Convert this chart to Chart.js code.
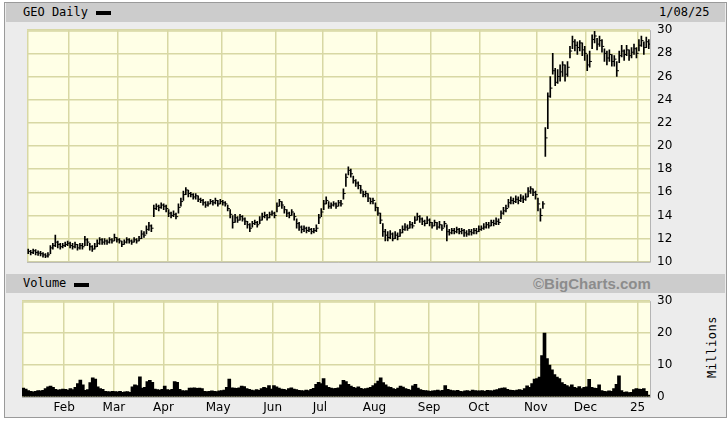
<!DOCTYPE html>
<html>
<head>
<meta charset="utf-8">
<script src="https://cdn.jsdelivr.net/npm/chart.js@4"></script>
<style>
  html, body { margin:0; padding:0; background:#ffffff; }
  body { width:728px; height:422px; position:relative; overflow:hidden; }
  #frame { position:absolute; left:4px; top:2px; width:721px; height:414px; border:1px solid #9a9a9a; background:#ececec; }
  .hdr { position:absolute; left:6px; width:719px; height:19px; background:#cccccc; }
  .hdr span { position:absolute; top:2px; font-family:"DejaVu Sans Mono", monospace; font-size:12px; color:#000; }
  .mark { position:absolute; width:15px; height:4px; background:#000; }
  #bc { position:absolute; font-family:"Liberation Sans", Arial, sans-serif; font-weight:bold; font-size:15px; color:#8c8c8c; top:1px; left:527px; }
  #mil { position:absolute; left:712px; top:347px; transform:translate(-50%,-50%) rotate(-90deg); font-family:"DejaVu Sans Mono", monospace; font-size:12px; color:#000; letter-spacing:0.5px; white-space:nowrap; }
  canvas { position:absolute; }
</style>
</head>
<body>
<div id="frame"></div>
<div class="hdr" style="top:3px;">
  <span style="left:17px;">GEO Daily</span>
  <div class="mark" style="left:90px; top:8px;"></div>
  <span style="left:653px;">1/08/25</span>
</div>
<div class="hdr" style="top:274px;">
  <span style="left:17px;">Volume</span>
  <div class="mark" style="left:68px; top:9px;"></div>
  <div id="bc">©BigCharts.com</div>
</div>
<div id="mil">Millions</div>
<canvas id="price" width="690" height="260" style="left:22px; top:16px;"></canvas>
<canvas id="vol" width="690" height="133" style="left:22px; top:287px;"></canvas>
<script>
// ---- Data (GEO daily, 1/08/24 - 1/08/25), one entry per trading day ----
const monthLabels = ['Feb','Mar','Apr','May','Jun','Jul','Aug','Sep','Oct','Nov','Dec','25'];
const monthStarts = [17, 37, 57, 79, 101, 120, 142, 164, 184, 207, 227, 248];
const priceTicks = [10, 12, 14, 16, 18, 20, 22, 24, 26, 28, 30];
const volumeTicks = [0, 10, 20, 30];

const closes = [
  10.9,10.8,10.95,10.8,10.75,10.7,10.6,10.5,10.6,11.2,11.4,11.7,11.5,11.3,11.4,11.5,11.6,
  11.4,11.3,11.5,11.2,11.4,11.3,11.9,11.7,11.3,11.1,11.3,11.6,11.9,11.7,11.8,11.7,11.9,11.8,12.1,11.9,
  11.8,11.5,11.7,11.9,11.8,11.7,11.9,11.8,12.0,12.4,12.3,12.8,13.1,12.9,14.6,14.8,14.7,14.9,14.8,14.6,
  14.2,14.0,14.1,13.9,14.7,15.2,15.8,16.2,15.9,15.8,15.6,15.7,15.4,15.3,15.1,14.9,15.0,15.2,15.1,15.3,15.0,15.2,
  15.1,15.0,14.6,14.1,13.4,13.8,13.6,13.9,13.7,13.5,13.2,12.9,13.3,13.4,13.2,13.6,13.9,14.0,13.8,14.1,14.2,14.0,
  14.8,15.2,14.9,14.5,14.2,14.0,14.3,13.9,13.3,13.0,12.8,12.9,12.7,12.8,12.6,12.7,12.9,13.8,14.3,
  15.0,15.3,14.8,14.9,15.0,14.8,15.1,15.0,15.9,17.3,17.9,17.6,17.0,16.8,16.6,16.2,15.8,15.9,15.5,15.2,15.3,14.7,
  14.2,13.6,12.6,12.3,12.1,12.4,12.0,12.3,12.2,12.5,12.8,13.0,12.9,13.2,13.1,13.6,13.9,13.7,13.5,13.3,13.6,13.4,
  13.1,13.4,13.0,13.2,12.9,13.3,12.6,12.5,12.7,12.6,12.8,12.6,12.7,12.5,12.4,12.6,12.5,12.7,12.6,12.8,
  12.9,13.0,13.2,13.1,13.4,13.3,13.5,13.4,14.2,14.4,14.6,15.1,15.3,15.2,15.4,15.3,15.5,15.4,15.6,16.1,16.3,16.0,15.8,
  15.0,14.0,15.0,20.7,24.3,25.0,26.5,25.5,26.0,26.4,27.0,26.2,26.8,28.2,29.0,28.7,28.5,28.9,28.3,28.0,
  27.0,27.3,29.2,29.5,28.8,29.1,28.6,28.0,27.6,27.9,27.3,27.5,26.5,27.8,28.2,27.9,28.3,27.8,28.1,28.4,28.0,
  28.7,29.1,28.5,29.0,28.8
];
const highs = [
  11.1,11.0,11.1,11.05,10.95,10.9,10.8,10.7,10.8,11.4,11.6,12.3,11.8,11.6,11.6,11.7,11.8,
  11.7,11.6,11.7,11.5,11.6,11.6,12.2,12.0,11.6,11.4,11.6,11.9,12.1,12.0,12.0,11.9,12.1,12.0,12.4,12.1,
  12.0,11.8,11.9,12.1,12.0,11.9,12.1,12.0,12.2,12.7,12.6,13.1,13.4,13.2,14.9,15.0,14.9,15.1,15.0,14.9,
  14.5,14.3,14.4,14.2,15.0,15.5,16.1,16.4,16.2,16.0,15.9,15.9,15.7,15.5,15.4,15.2,15.2,15.4,15.3,15.5,15.3,15.4,
  15.3,15.2,14.9,14.5,14.0,14.1,13.9,14.1,14.0,13.8,13.5,13.3,13.5,13.6,13.5,13.9,14.2,14.3,14.1,14.3,14.4,14.3,
  15.1,15.4,15.2,14.8,14.5,14.3,14.5,14.2,13.7,13.4,13.1,13.1,13.0,13.0,12.9,12.9,13.2,14.1,14.6,
  15.3,15.6,15.2,15.1,15.2,15.1,15.3,15.3,16.3,17.6,18.2,18.0,17.4,17.1,16.9,16.6,16.1,16.1,15.9,15.5,15.5,15.1,
  14.7,14.2,13.3,12.8,12.6,12.7,12.5,12.6,12.5,12.8,13.1,13.3,13.2,13.5,13.4,13.9,14.2,14.0,13.8,13.6,13.9,13.7,
  13.4,13.6,13.4,13.5,13.2,13.5,13.2,12.8,12.9,12.9,13.0,12.9,12.9,12.8,12.7,12.8,12.8,12.9,12.9,13.1,
  13.1,13.3,13.4,13.4,13.6,13.6,13.8,13.7,14.4,14.7,14.9,15.4,15.6,15.5,15.7,15.6,15.8,15.7,15.9,16.4,16.5,16.3,16.1,
  15.5,14.6,15.2,21.6,24.6,26.0,28.0,26.7,26.6,27.0,27.3,27.0,27.3,28.6,29.5,29.2,29.0,29.1,28.9,28.6,
  27.9,28.2,29.6,29.9,29.3,29.5,29.2,28.4,28.2,28.3,27.9,27.8,27.3,28.2,28.7,28.3,28.7,28.3,28.5,28.8,28.5,
  29.2,29.5,29.0,29.4,29.2
];
const lows = [
  10.7,10.6,10.7,10.6,10.55,10.5,10.4,10.35,10.4,10.7,11.1,11.3,11.2,11.1,11.2,11.3,11.4,
  11.2,11.1,11.2,11.0,11.1,11.1,11.4,11.4,11.0,10.9,11.1,11.3,11.5,11.5,11.5,11.5,11.6,11.6,11.8,11.7,
  11.6,11.3,11.5,11.6,11.6,11.5,11.7,11.6,11.8,12.0,12.1,12.4,12.7,12.6,13.9,14.5,14.4,14.6,14.5,14.3,
  13.9,13.8,13.9,13.7,14.2,14.8,15.3,15.8,15.6,15.6,15.4,15.4,15.2,15.1,14.9,14.7,14.8,15.0,14.9,15.0,14.8,15.0,
  14.9,14.8,14.4,13.8,12.9,13.4,13.4,13.6,13.5,13.2,12.9,12.6,13.0,13.2,13.0,13.3,13.6,13.8,13.6,13.8,14.0,13.8,
  14.3,14.8,14.6,14.2,13.9,13.8,14.0,13.6,12.9,12.7,12.5,12.6,12.5,12.6,12.4,12.5,12.6,13.3,13.9,
  14.5,15.0,14.6,14.6,14.8,14.6,14.8,14.8,15.4,16.5,17.5,17.3,16.8,16.5,16.3,15.9,15.6,15.6,15.2,15.0,15.0,14.4,
  14.0,13.3,12.2,11.8,11.8,12.0,11.8,12.0,11.9,12.2,12.5,12.7,12.7,12.9,12.9,13.3,13.6,13.4,13.2,13.1,13.3,13.1,
  12.9,13.1,12.8,12.9,12.7,13.0,11.8,12.3,12.4,12.4,12.5,12.4,12.4,12.2,12.2,12.3,12.3,12.4,12.4,12.6,
  12.7,12.8,12.9,12.9,13.1,13.1,13.2,13.2,13.7,14.1,14.3,14.7,15.0,15.0,15.1,15.0,15.2,15.1,15.3,15.6,15.9,15.7,15.4,
  14.4,13.5,14.6,19.1,21.5,24.2,26.2,25.2,25.4,25.6,26.0,25.6,26.0,27.6,28.4,28.2,27.9,28.2,27.8,27.4,
  26.5,26.8,28.4,28.9,28.3,28.6,28.1,27.3,27.0,27.3,26.9,26.9,26.0,27.2,27.7,27.4,27.8,27.4,27.6,27.9,27.6,
  28.2,28.6,27.9,28.5,28.4
];
const volumes = [
  2.8,2.5,2.0,1.8,1.6,1.8,2.0,1.9,2.1,2.6,3.2,3.4,3.0,2.4,2.2,2.3,2.5,
  2.4,2.2,2.6,2.3,3.0,4.2,5.3,3.8,2.1,2.3,4.5,6.0,5.6,3.2,2.6,2.4,1.8,1.7,1.6,1.8,
  1.7,1.6,1.8,1.5,1.6,1.7,1.5,3.2,3.8,3.6,6.3,2.8,3.0,4.8,5.2,4.6,2.5,2.3,2.2,2.4,
  3.4,2.3,2.2,2.4,4.8,4.6,2.4,2.0,1.9,2.0,2.8,2.8,2.9,2.7,2.8,2.6,1.8,1.7,1.8,1.9,1.8,1.7,
  1.9,2.0,2.2,3.0,5.6,2.9,2.8,2.7,2.9,3.4,3.3,2.6,2.4,2.2,2.0,2.3,2.1,2.6,3.0,2.8,3.6,2.5,
  3.6,3.2,2.8,2.5,2.4,2.2,2.6,2.9,2.5,2.3,2.1,2.0,1.9,2.2,2.0,2.4,2.7,4.0,4.6,
  4.2,5.8,3.6,3.0,2.8,2.6,2.7,2.9,3.8,5.2,4.8,4.0,3.4,3.0,2.8,3.2,2.7,2.5,2.6,2.8,3.0,3.6,
  4.2,5.0,6.0,4.5,3.8,3.2,3.0,2.6,2.4,2.8,3.4,3.1,2.6,2.4,2.2,3.5,4.0,2.8,2.3,2.1,2.0,1.9,
  1.8,1.9,2.0,2.2,1.9,2.1,3.6,2.4,2.2,2.0,1.9,2.1,1.8,1.7,1.9,2.0,1.8,2.2,2.0,1.9,
  1.9,2.0,1.8,2.1,2.0,1.9,2.2,2.3,2.6,2.8,2.9,2.4,2.2,2.1,2.0,2.2,2.3,2.1,2.6,3.5,3.0,4.2,5.6,
  5.8,6.2,13.0,20.0,12.0,10.0,8.5,7.0,6.2,5.8,4.5,4.0,3.6,3.2,3.8,3.0,2.8,3.3,2.6,3.0,
  3.2,5.5,3.0,2.8,2.7,3.8,2.0,1.8,1.7,1.9,1.8,2.6,4.0,6.6,2.0,1.5,1.6,1.4,1.5,2.3,2.6,
  2.5,2.4,2.6,1.8,0.6
];

// ---- Styling ----
const PLOT_BG = '#ffffe6';
const GRID = '#d8d8a4';
const TICK_FONT = { family: 'DejaVu Sans', size: 12 };
const N = closes.length;

const plotBg = {
  id: 'plotBg',
  beforeDraw(chart) {
    const { ctx, chartArea: a } = chart;
    ctx.save();
    ctx.fillStyle = PLOT_BG;
    ctx.fillRect(a.left, a.top, a.right - a.left, a.bottom - a.top);
    ctx.restore();
  },
  beforeDatasetsDraw(chart) {
    const { ctx, chartArea: a } = chart;
    ctx.save();
    ctx.lineWidth = 1.5;
    ctx.strokeStyle = GRID;
    ctx.beginPath();
    ctx.moveTo(a.left + 0.75, a.bottom); ctx.lineTo(a.left + 0.75, a.top + 0.75); ctx.lineTo(a.right, a.top + 0.75);
    ctx.stroke();
    ctx.strokeStyle = '#b4b4b4';
    ctx.lineWidth = 1;
    ctx.beginPath();
    ctx.moveTo(a.left, a.bottom + 0.5); ctx.lineTo(a.right + 0.5, a.bottom + 0.5); ctx.lineTo(a.right + 0.5, a.top);
    ctx.stroke();
    ctx.restore();
  }
};

const xMonthTicks = s => { s.ticks = monthStarts.map(v => ({ value: v - 0.5 })); };

new Chart(document.getElementById('price'), {
  type: 'bar',
  data: {
    datasets: [
      {
        type: 'bar',
        data: highs.map((h, i) => ({ x: i, y: [lows[i], h] })),
        backgroundColor: '#000',
        barThickness: 1,
        grouped: false
      },
      {
        type: 'scatter',
        data: closes.map((c, i) => ({ x: i + 0.5, y: c })),
        pointStyle: 'line',
        pointRadius: 1,
        borderColor: '#000',
        borderWidth: 1
      }
    ]
  },
  options: {
    animation: false, responsive: false, devicePixelRatio: 1,
    layout: { padding: { top: 10, bottom: 10, left: 0, right: 0 } },
    plugins: { legend: { display: false }, tooltip: { enabled: false } },
    scales: {
      x: {
        type: 'linear', min: -0.5, max: N - 0.5, offset: false,
        afterBuildTicks: xMonthTicks,
        afterFit: s => { s.height = 0; },
        ticks: { display: false },
        grid: { color: GRID, lineWidth: 1.5, drawTicks: false, offset: false },
        border: { display: false }
      },
      y: {
        position: 'right', min: priceTicks[0], max: priceTicks[priceTicks.length - 1],
        afterBuildTicks: s => { s.ticks = priceTicks.map(v => ({ value: v })); },
        afterFit: s => { s.width = 62; },
        ticks: { padding: 7, font: TICK_FONT, color: '#000' },
        grid: { color: GRID, lineWidth: 1.5, drawTicks: false },
        border: { display: false }
      }
    }
  },
  plugins: [plotBg]
});

new Chart(document.getElementById('vol'), {
  type: 'bar',
  data: {
    datasets: [{
      data: volumes.map((v, i) => ({ x: i, y: v })),
      backgroundColor: '#000',
      barThickness: 3,
      grouped: false
    }]
  },
  options: {
    animation: false, responsive: false, devicePixelRatio: 1,
    layout: { padding: { top: 10, bottom: 0, left: 0, right: 0 } },
    plugins: { legend: { display: false }, tooltip: { enabled: false } },
    scales: {
      x: {
        type: 'linear', min: -0.5, max: N - 0.5, offset: false,
        afterBuildTicks: xMonthTicks,
        afterFit: s => { s.height = 23; },
        ticks: { font: TICK_FONT, color: '#000', padding: 4, maxRotation: 0, autoSkip: false,
                 callback: (v, i) => monthLabels[i] },
        grid: { color: GRID, lineWidth: 1.5, drawTicks: false, offset: false },
        border: { display: false }
      },
      y: {
        position: 'right', min: 0, max: 30,
        afterBuildTicks: s => { s.ticks = volumeTicks.map(v => ({ value: v })); },
        afterFit: s => { s.width = 62; },
        ticks: { padding: 7, font: TICK_FONT, color: '#000' },
        grid: { color: GRID, lineWidth: 1.5, drawTicks: false },
        border: { display: false }
      }
    }
  },
  plugins: [plotBg]
});
</script>
</body>
</html>
